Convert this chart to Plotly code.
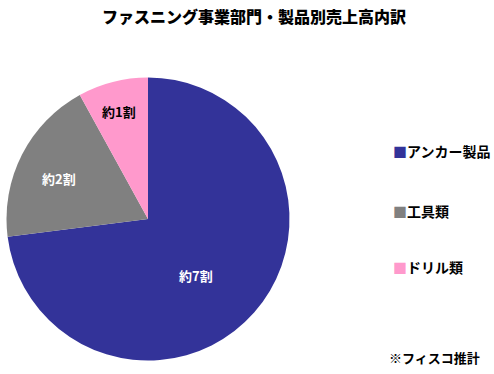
import plotly.graph_objects as go

categories = ["アンカー製品", "工具類", "ドリル類"]
values = [73, 19, 8]
slice_labels = ["約7割", "約2割", "約1割"]
colors = ["#333399", "#808080", "#FF99CC"]
label_colors = ["white", "white", "black"]
label_pos = [(196, 275), (59, 178), (119, 112)]  # pixel positions of slice labels
title = "ファスニング事業部門・製品別売上高内訳"
note = "※フィスコ推計"

W, H = 494, 374
FONT = "Noto Sans CJK JP"

fig = go.Figure(go.Pie(
    labels=categories, values=values, marker=dict(colors=colors, line=dict(width=0)),
    sort=False, direction="clockwise", rotation=0, textinfo="none", hoverinfo="none",
    domain=dict(x=[6.5 / W, 289.5 / W], y=[(H - 360.5) / H, (H - 77.5) / H]),
    showlegend=False,
))

ann = []
for t, c, (px, py) in zip(slice_labels, label_colors, label_pos):
    ann.append(dict(x=px / W, y=1 - py / H, xref="paper", yref="paper", text=t, showarrow=False,
                    font=dict(family=FONT, size=13, color=c, weight=700),
                    xanchor="center", yanchor="middle"))

legend_y = [151, 211, 267]
for cat, col, ly in zip(categories, colors, legend_y):
    ann.append(dict(x=391 / W, y=1 - ly / H, xref="paper", yref="paper",
                    text=f"<span style='color:{col}'>■</span>{cat}", showarrow=False,
                    font=dict(family=FONT, size=14, color="black", weight=700),
                    xanchor="left", yanchor="middle"))

ann.append(dict(x=254 / W, y=1 - 16 / H, xref="paper", yref="paper", text=title,
                showarrow=False, font=dict(family=FONT, size=16, color="black", weight=900),
                xanchor="center", yanchor="middle"))
ann.append(dict(x=434 / W, y=1 - 357 / H, xref="paper", yref="paper", text=note,
                showarrow=False, font=dict(family=FONT, size=13, color="black", weight=700),
                xanchor="center", yanchor="middle"))

fig.update_layout(width=W, height=H, margin=dict(l=0, r=0, t=0, b=0),
                  paper_bgcolor="white", plot_bgcolor="white", annotations=ann)
fig.write_html("out.html")
